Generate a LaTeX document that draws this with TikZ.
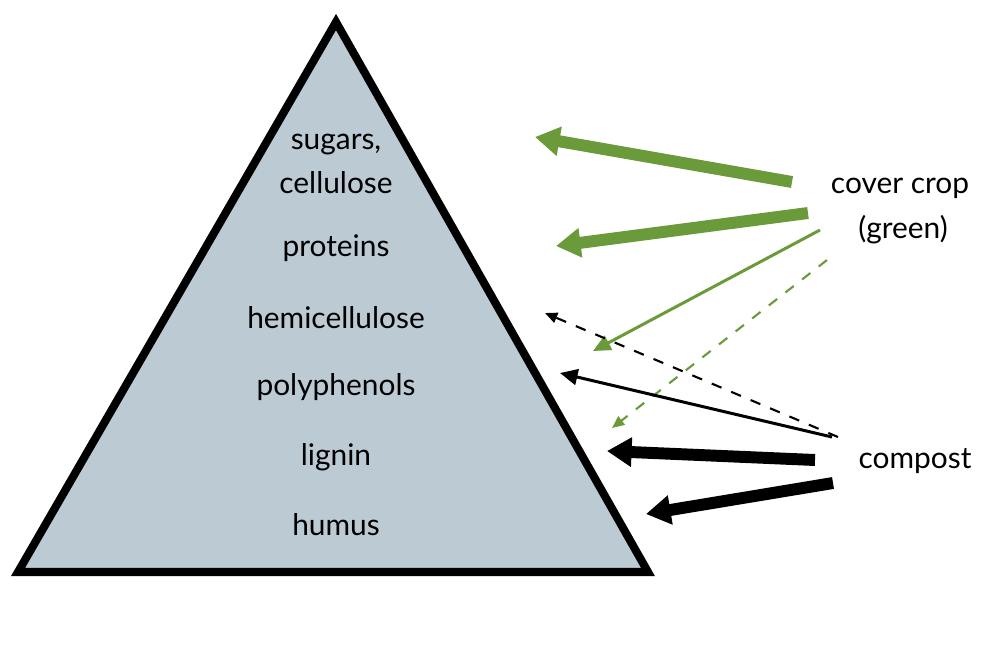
\documentclass[tikz,border=0pt]{standalone}
\usepackage{fontspec}
\setmainfont{Lato}
\usetikzlibrary{arrows.meta}
\definecolor{pyr}{HTML}{BCCBD3}
\definecolor{grn}{HTML}{6A9A3A}
\begin{document}
\begin{tikzpicture}[x=0.1mm,y=-0.1mm,
  lbl/.style={font=\fontsize{8.5}{10}\selectfont, inner sep=0pt},
  fat/.style={line width=3.4pt,-{Triangle[length=7pt,width=8pt]}},
  thin/.style={line width=0.85pt,-{Triangle[length=5pt,width=4.5pt]}},
  dsh/.style={line width=0.6pt,dashed,-{Triangle[length=3.5pt,width=3pt]}}]
\useasboundingbox (0,0) rectangle (1000,665);
\draw[fill=pyr,line width=2.3pt,line join=miter] (336,22) -- (648,572) -- (18,572) -- cycle;
\node[lbl] (t1) at (336,145) {sugars,};
\node[lbl] (t2) at (336,183) {cellulose};
\node[lbl] (t3) at (336,248) {proteins};
\node[lbl] (t4) at (336,318) {hemicellulose};
\node[lbl] (t5) at (336,387) {polyphenols};
\node[lbl] (t6) at (336,457) {lignin};
\node[lbl] (t7) at (336,525) {humus};
\node[lbl] (cc1) at (900,188) {cover crop};
\node[lbl] (cc2) at (903,230) {(green)};
\node[lbl] (cp) at (915,461) {compost};
\coordinate (a1s) at (792,182); \coordinate (a1e) at (535,137);
\coordinate (a2s) at (808,213); \coordinate (a2e) at (556,246);
\coordinate (a3s) at (820,230); \coordinate (a3e) at (593,351);
\coordinate (a4s) at (827,260); \coordinate (a4e) at (612,428);
\coordinate (b1s) at (838,437); \coordinate (b1e) at (545,313);
\coordinate (b2s) at (832,437); \coordinate (b2e) at (560,373);
\coordinate (b3s) at (815,460); \coordinate (b3e) at (607,451);
\coordinate (b4s) at (833,483); \coordinate (b4e) at (646,514);
\draw[fat,grn] (a1s) -- (a1e);
\draw[fat,grn] (a2s) -- (a2e);
\draw[thin,grn] (a3s) -- (a3e);
\draw[dsh,grn] (a4s) -- (a4e);
\draw[dsh,black] (b1s) -- (b1e);
\draw[thin,black] (b2s) -- (b2e);
\draw[fat,black] (b3s) -- (b3e);
\draw[fat,black] (b4s) -- (b4e);
\end{tikzpicture}
\end{document}
